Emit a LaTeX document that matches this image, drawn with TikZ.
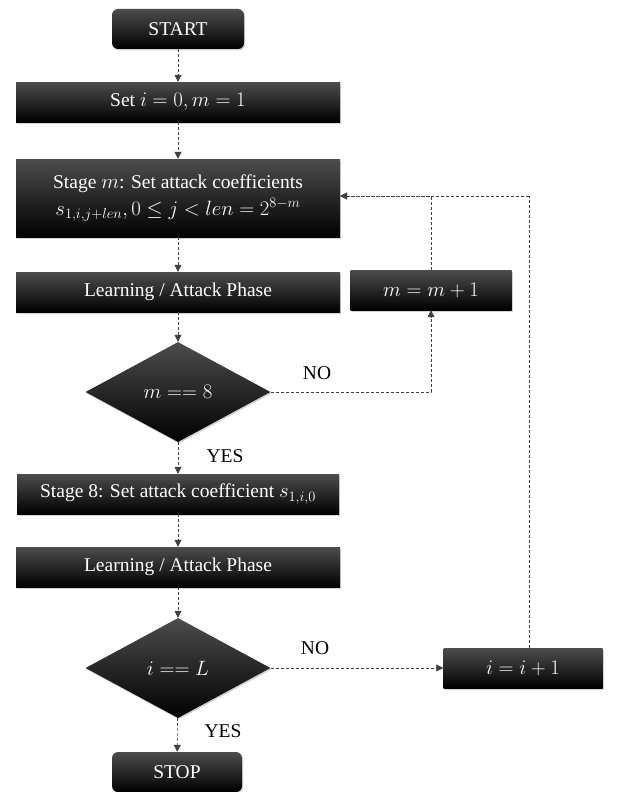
\documentclass[tikz,border=0pt]{standalone}
\usepackage{fontspec}
\setmainfont{Liberation Serif}
\usetikzlibrary{shapes.geometric,arrows.meta,shadows}
\begin{document}
\begin{tikzpicture}[x=1pt, y=-1pt, font=\rmfamily\fontsize{19.5}{24}\selectfont,
  shade box/.style={top color=black!70, middle color=black, bottom color=black, text=white,
    drop shadow={opacity=0.35, shadow xshift=1pt, shadow yshift=-1.5pt}},
  box/.style={shade box, minimum height=40pt, inner sep=2pt},
  terminal/.style={box, rounded corners=6pt, minimum width=132pt},
  decision/.style={shade box, diamond, aspect=1.85, minimum width=185pt, minimum height=100pt, inner sep=0pt},
  flow/.style={draw=black!75, line width=0.6pt, dash pattern=on 3pt off 2pt, -{Triangle[width=7pt,length=7pt]}},
  link/.style={draw=black!75, line width=0.6pt, dash pattern=on 3pt off 2pt}]
\useasboundingbox (0,0) rectangle (616,792);
% main column
\node[terminal] (start) at (178,29) {START};
\node[box, minimum width=324pt] (init) at (178,102) {Set $i=0, m=1$};
\node[box, minimum width=324pt, minimum height=78pt, align=center] (stage) at (178,198)
  {Stage $m$: Set attack coefficients\\[3pt] $s_{1,i,j+len}, 0\le j<len=2^{8-m}$};
\node[box, minimum width=324pt] (learnA) at (178,292) {Learning / Attack Phase};
\node[decision] (checkm) at (178,392) {$m==8$};
\node[box, minimum width=322pt] (stagelast) at (178,494) {Stage 8: Set attack coefficient $s_{1,i,0}$};
\node[box, minimum width=324pt] (learnB) at (178,567) {Learning / Attack Phase};
\node[decision] (checki) at (178,668) {$i==L$};
\node[terminal, minimum width=130pt] (stop) at (177,772) {STOP};
% side column
\node[box, minimum width=161pt] (mstep) at (431,290) {$m=m+1$};
\node[box, minimum width=159pt] (istep) at (523,668) {$i=i+1$};
\coordinate (loop) at (529,196);
% connectors
\draw[flow] (start) -- (init);
\draw[flow] (init) -- (stage);
\draw[flow] (stage) -- (learnA);
\draw[flow] (learnA) -- (checkm);
\draw[flow] (checkm.east) -| (mstep.south);
\draw[flow] (mstep.north) |- (stage.east |- loop);
\draw[flow] (checkm) -- (stagelast);
\draw[flow] (stagelast) -- (learnB);
\draw[flow] (learnB) -- (checki);
\draw[flow] (checki.east) -- (istep.west);
\draw[link] (istep.north -| loop) -- (loop);
\draw[flow] (loop) -- (stage.east |- loop);
\draw[flow] (checki) -- (stop);
% branch labels
\node at (317,373) {NO};
\node at (225,456) {YES};
\node at (315,648) {NO};
\node at (223,731) {YES};
\end{tikzpicture}
\end{document}
